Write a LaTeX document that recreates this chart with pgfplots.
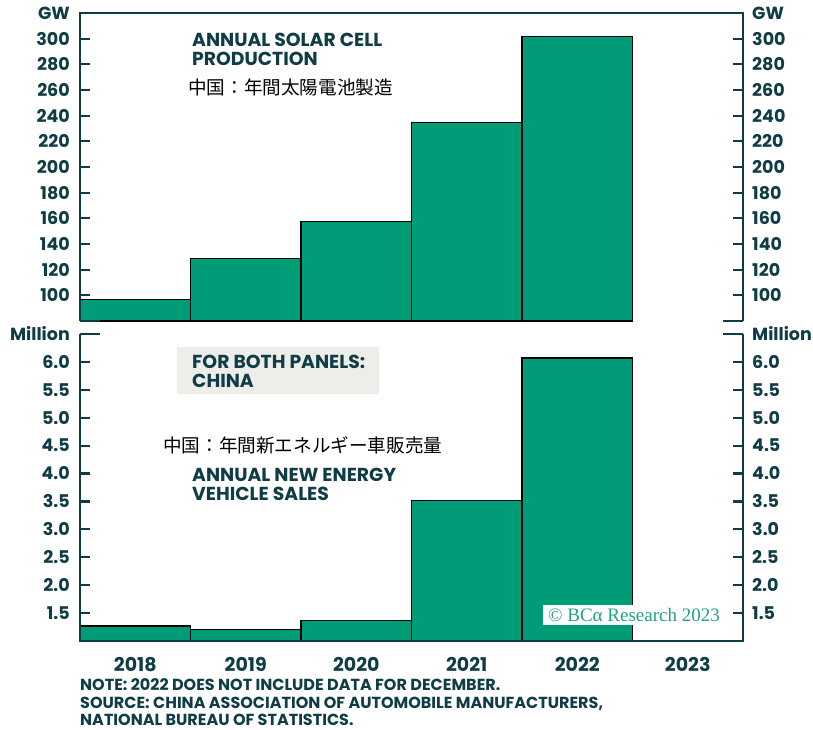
\documentclass[border=0pt]{standalone}
\usepackage{pgfplots}
\pgfplotsset{compat=1.18}
\usepackage{pgfplotstable}
\usepackage{fontspec}
\setmainfont{Poppins}
\newfontfamily\cjk{Noto Sans CJK JP}
\newfontfamily\wm{Liberation Serif}
\definecolor{tealdark}{HTML}{0F3C45}
\definecolor{barg}{HTML}{009C77}
\definecolor{boxg}{HTML}{EDEDE9}
\definecolor{wmg}{HTML}{22A480}

\pgfplotstableread{
x y
0 97
1 128.5
2 157.5
3 234.5
4 301.5
}\solar
\pgfplotstableread{
x y
0 1.27
1 1.21
2 1.37
3 3.52
4 6.07
}\nev

\tikzset{spine/.style={tealdark, line width=2.2pt}}
\pgfplotsset{
  panel/.style={scale only axis, width=663pt, xmin=-0.5, xmax=5.5,
    clip mode=individual, axis line style={draw=none},
    ytick style={tealdark, line width=2.2pt}, xtick style={draw=none},
    major tick length=10pt, tick align=inside, ytick pos=both,
    ticklabel style={font=\bfseries\fontsize{17.5}{17.5}\selectfont, text=tealdark, inner sep=0pt},
    /pgf/number format/assume math mode=true},
  leftlab/.style={yticklabel style={xshift=-10pt}},
  rightlab/.style={yticklabel pos=right, ytick style={draw=none}, xtick=\empty, yticklabel style={xshift=9pt}},
}

\begin{document}
\begin{tikzpicture}[x=1pt,y=1pt]
\useasboundingbox (0,0) rectangle (813,730);

% ---------- top panel ----------
\begin{axis}[panel, leftlab, at={(80pt,409pt)}, anchor=south west, height=308pt,
  ymin=80, ymax=320, xtick=\empty,
  ytick={100,120,140,160,180,200,220,240,260,280,300,320},
  yticklabels={100,120,140,160,180,200,220,240,260,280,300,GW}]
\addplot[ybar, bar width=1, fill=barg, draw=black, line width=1.3pt] table {\solar};
\draw[black, line width=1.3pt] (axis cs:-0.5,80) -- (axis cs:4.5,80);
\draw[spine] (rel axis cs:0,0) -- (rel axis cs:0,1) -- (rel axis cs:1,1) -- (rel axis cs:1,0);
\draw[spine] (rel axis cs:0,0) -- (rel axis cs:0.0302,0);
\draw[spine] (rel axis cs:1,0) -- (rel axis cs:0.9698,0);
\end{axis}
\begin{axis}[panel, rightlab, at={(80pt,409pt)}, anchor=south west, height=308pt,
  ymin=80, ymax=320,
  ytick={100,120,140,160,180,200,220,240,260,280,300,320},
  yticklabels={100,120,140,160,180,200,220,240,260,280,300,GW}]
\end{axis}

% ---------- bottom panel ----------
\begin{axis}[panel, leftlab, at={(80pt,89pt)}, anchor=south west, height=307pt,
  ymin=1, ymax=6.5,
  xtick={0,1,2,3,4,5}, xticklabels={2018,2019,2020,2021,2022,2023},
  xticklabel style={yshift=-16pt, font=\bfseries\fontsize{19}{19}\selectfont},
  ytick={1.5,2,2.5,3,3.5,4,4.5,5,5.5,6,6.5},
  yticklabels={1.5,2.0,2.5,3.0,3.5,4.0,4.5,5.0,5.5,6.0,Million}]
\addplot[ybar, bar width=1, fill=barg, draw=black, line width=1.3pt] table {\nev};
\draw[spine] (rel axis cs:0,1) -- (rel axis cs:0,0) -- (rel axis cs:1,0) -- (rel axis cs:1,1);
\draw[spine] (rel axis cs:0,1) -- (rel axis cs:0.0302,1);
\draw[spine] (rel axis cs:1,1) -- (rel axis cs:0.9698,1);
\end{axis}
\begin{axis}[panel, rightlab, at={(80pt,89pt)}, anchor=south west, height=307pt,
  ymin=1, ymax=6.5,
  ytick={1.5,2,2.5,3,3.5,4,4.5,5,5.5,6,6.5},
  yticklabels={1.5,2.0,2.5,3.0,3.5,4.0,4.5,5.0,5.5,6.0,Million}]
\end{axis}

% ---------- annotations ----------
\node[anchor=north west, align=left, inner sep=0pt, text=tealdark,
  font=\bfseries\fontsize{18.8}{19}\selectfont] at (192,697) {ANNUAL SOLAR CELL\\PRODUCTION};
\node[anchor=west, inner sep=0pt, font=\fontsize{18.6}{18.6}\selectfont] at (188,643) {\cjk 中国：年間太陽電池製造};

\fill[boxg] (177,336) rectangle (379,383);
\node[anchor=north west, align=left, inner sep=0pt, text=tealdark,
  font=\bfseries\fontsize{18.8}{19}\selectfont] at (192,375) {FOR BOTH PANELS:\\CHINA};
\node[anchor=west, inner sep=0pt, font=\fontsize{18.6}{18.6}\selectfont] at (163,285) {\cjk 中国：年間新エネルギー車販売量};
\node[anchor=north west, align=left, inner sep=0pt, text=tealdark,
  font=\bfseries\fontsize{18.8}{19}\selectfont] at (192,262) {ANNUAL NEW ENERGY\\VEHICLE SALES};

\fill[white] (543,105) rectangle (720,125);
\node[anchor=base west, inner sep=0pt, text=wmg, font=\fontsize{19}{19}\selectfont] at (548,108) {\wm © BCα Research 2023};

\node[anchor=north west, align=left, inner sep=0pt, text=tealdark,
  font=\bfseries\fontsize{16}{17.5}\selectfont] at (80,51.5) {NOTE: 2022 DOES NOT INCLUDE DATA FOR DECEMBER.\\SOURCE: CHINA ASSOCIATION OF AUTOMOBILE MANUFACTURERS,\\NATIONAL BUREAU OF STATISTICS.};
\end{tikzpicture}
\end{document}
